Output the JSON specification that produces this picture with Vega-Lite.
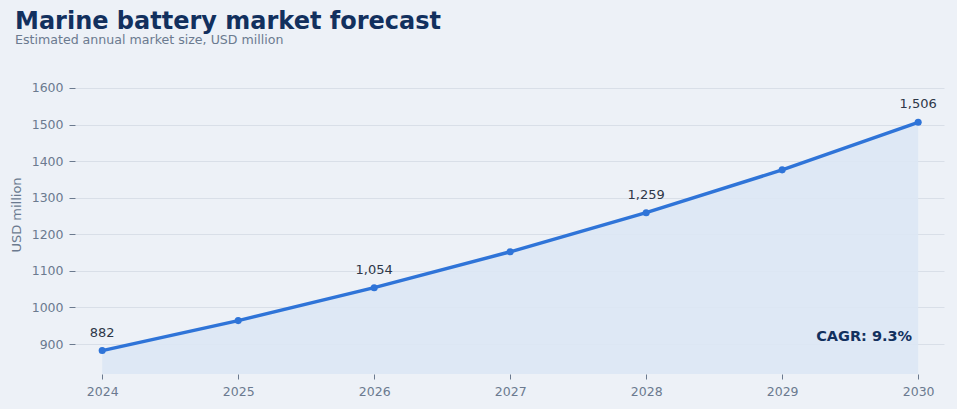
{
  "$schema": "https://vega.github.io/schema/vega-lite/v6.json",
  "width": 869,
  "height": 319,
  "autosize": {"type": "none"},
  "padding": {"left": 75, "top": 55, "right": 13, "bottom": 35},
  "background": "#edf1f7",
  "config": {"view": {"stroke": null}},
  "title": {
    "text": "Marine battery market forecast",
    "subtitle": "Estimated annual market size, USD million",
    "anchor": "start",
    "frame": "group",
    "dx": -60,
    "offset": 0,
    "dy": -8,
    "font": "DejaVu Sans",
    "fontSize": 24,
    "fontWeight": "bold",
    "color": "#12305e",
    "subtitleFont": "DejaVu Sans",
    "subtitleFontSize": 12.6,
    "subtitleColor": "#6b7a8f",
    "subtitlePadding": 0
  },
  "data": {
    "values": [
      {"year": 2024, "value": 882, "labeled": true},
      {"year": 2025, "value": 964, "labeled": false},
      {"year": 2026, "value": 1054, "labeled": true},
      {"year": 2027, "value": 1152, "labeled": false},
      {"year": 2028, "value": 1259, "labeled": true},
      {"year": 2029, "value": 1376, "labeled": false},
      {"year": 2030, "value": 1506, "labeled": true}
    ]
  },
  "encoding": {
    "x": {
      "field": "year",
      "type": "quantitative",
      "scale": {"domain": [2023.8, 2030.19], "nice": false, "zero": false},
      "axis": {
        "title": null,
        "values": [2024, 2025, 2026, 2027, 2028, 2029, 2030],
        "format": "d",
        "grid": false,
        "domain": false,
        "ticks": true,
        "tickSize": 5,
        "tickColor": "#6b7a8f",
        "labelPadding": 6,
        "labelFont": "DejaVu Sans",
        "labelFontSize": 12.5,
        "labelColor": "#6b7a8f"
      }
    },
    "y": {
      "field": "value",
      "type": "quantitative",
      "scale": {"domain": [818, 1690], "nice": false, "zero": false},
      "axis": {
        "title": "USD million",
        "titleFont": "DejaVu Sans",
        "titleFontSize": 13,
        "titleFontWeight": "normal",
        "titleColor": "#6b7a8f",
        "titlePadding": 8,
        "values": [900, 1000, 1100, 1200, 1300, 1400, 1500, 1600],
        "format": "d",
        "domain": false,
        "ticks": true,
        "tickSize": 6,
        "tickColor": "#6b7a8f",
        "labelPadding": 6,
        "labelFont": "DejaVu Sans",
        "labelFontSize": 12.5,
        "labelColor": "#6b7a8f",
        "gridColor": "#d9dfe8",
        "gridWidth": 1
      }
    }
  },
  "layer": [
    {
      "mark": {"type": "area", "color": "#dce7f4", "opacity": 0.9, "clip": true}
    },
    {
      "mark": {"type": "line", "color": "#2f74d8", "strokeWidth": 3.5}
    },
    {
      "mark": {"type": "point", "filled": true, "color": "#2f74d8", "size": 50, "opacity": 1}
    },
    {
      "transform": [{"filter": "datum.labeled"}],
      "mark": {
        "type": "text",
        "baseline": "bottom",
        "dy": -11,
        "font": "DejaVu Sans",
        "fontSize": 13,
        "color": "#2d3748"
      },
      "encoding": {"text": {"field": "value", "type": "quantitative", "format": ","}}
    },
    {
      "data": {"values": [{"year": 2030, "value": 920, "note": "CAGR: 9.3%"}]},
      "mark": {
        "type": "text",
        "align": "right",
        "baseline": "middle",
        "dx": -6,
        "font": "DejaVu Sans",
        "fontSize": 14.5,
        "fontWeight": "bold",
        "color": "#12305e"
      },
      "encoding": {"text": {"field": "note", "type": "nominal"}}
    }
  ]
}
